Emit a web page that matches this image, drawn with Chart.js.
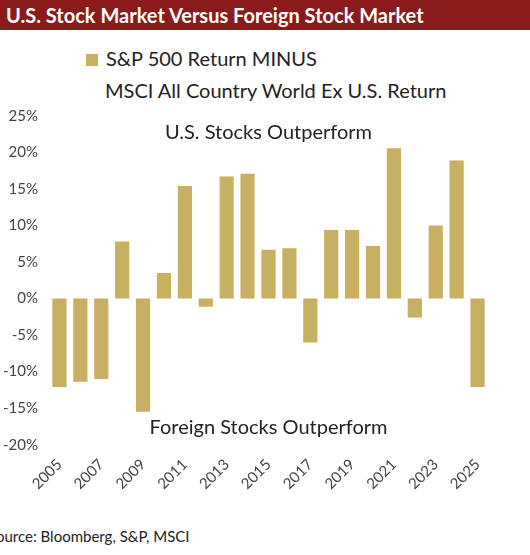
<!DOCTYPE html>
<html>
<head>
<meta charset="utf-8">
<script src="https://cdn.jsdelivr.net/npm/chart.js@4"></script>
<style>
  body { margin: 0; width: 530px; height: 555px; background: #fff; font-family: Lato, "Open Sans", sans-serif; overflow: hidden; }
  .title { background: #8b1a1a; color: #fff; font-weight: bold; font-size: 20px; height: 30px; line-height: 30px; padding-left: 6px; white-space: nowrap; }
  .legend { position: absolute; left: 86px; top: 42px; font-size: 20px; color: #222; line-height: 32px; }
  .legend .sw { display: inline-block; width: 12px; height: 12px; background: #c8b063; margin-right: 8px; }
  .legend .l2 { padding-left: 19px; }
  .chart { position: absolute; left: 0; top: 104px; width: 498px; height: 392px; }
  .source { position: absolute; left: -4px; top: 527px; font-size: 15px; color: #222; }
</style>
</head>
<body>
<div class="title">U.S. Stock Market Versus Foreign Stock Market</div>
<div class="legend"><span class="sw"></span>S&amp;P 500 Return MINUS<br><span class="l2">MSCI All Country World Ex U.S. Return</span></div>
<div class="chart"><canvas id="c"></canvas></div>
<div class="source">ource: Bloomberg, S&amp;P, MSCI</div>
<script>
const years = ['2005','2006','2007','2008','2009','2010','2011','2012','2013','2014','2015','2016','2017','2018','2019','2020','2021','2022','2023','2024','2025'];
const spreads = [-12.1, -11.4, -11.0, 7.8, -15.5, 3.5, 15.4, -1.1, 16.7, 17.1, 6.7, 6.9, -6.0, 9.4, 9.4, 7.2, 20.6, -2.6, 10.0, 18.9, -12.1];
const notes = ['U.S. Stocks Outperform', 'Foreign Stocks Outperform'];

const notePlugin = {
  id: 'notes',
  afterDraw(chart) {
    const { ctx, chartArea, scales } = chart;
    const cx = (chartArea.left + chartArea.right) / 2;
    ctx.save();
    ctx.font = '20px Lato, sans-serif';
    ctx.fillStyle = '#222';
    ctx.textAlign = 'center';
    ctx.textBaseline = 'middle';
    ctx.fillText(notes[0], cx, scales.y.getPixelForValue(22.7));
    ctx.fillText(notes[1], cx, scales.y.getPixelForValue(-17.6));
    ctx.restore();
  }
};

new Chart(document.getElementById('c'), {
  type: 'bar',
  data: { labels: years, datasets: [{ data: spreads, backgroundColor: '#c8b063', categoryPercentage: 1, barPercentage: 0.68 }] },
  options: {
    responsive: true, maintainAspectRatio: false, animation: false,
    layout: { padding: { top: 4, right: 10 } },
    plugins: { legend: { display: false }, tooltip: { enabled: false } },
    scales: {
      y: {
        min: -20, max: 25,
        ticks: { stepSize: 5, color: '#444', font: { size: 15, family: 'Lato' }, callback: v => v + '%' },
        grid: { display: false }, border: { display: false }
      },
      x: {
        ticks: { color: '#444', font: { size: 15, family: 'Lato' }, maxRotation: 45, minRotation: 45, autoSkip: false,
          callback: (v, i) => i % 2 === 0 ? years[i] : '' },
        grid: { display: false }, border: { display: false }
      }
    }
  },
  plugins: [notePlugin]
});
</script>
</body>
</html>
